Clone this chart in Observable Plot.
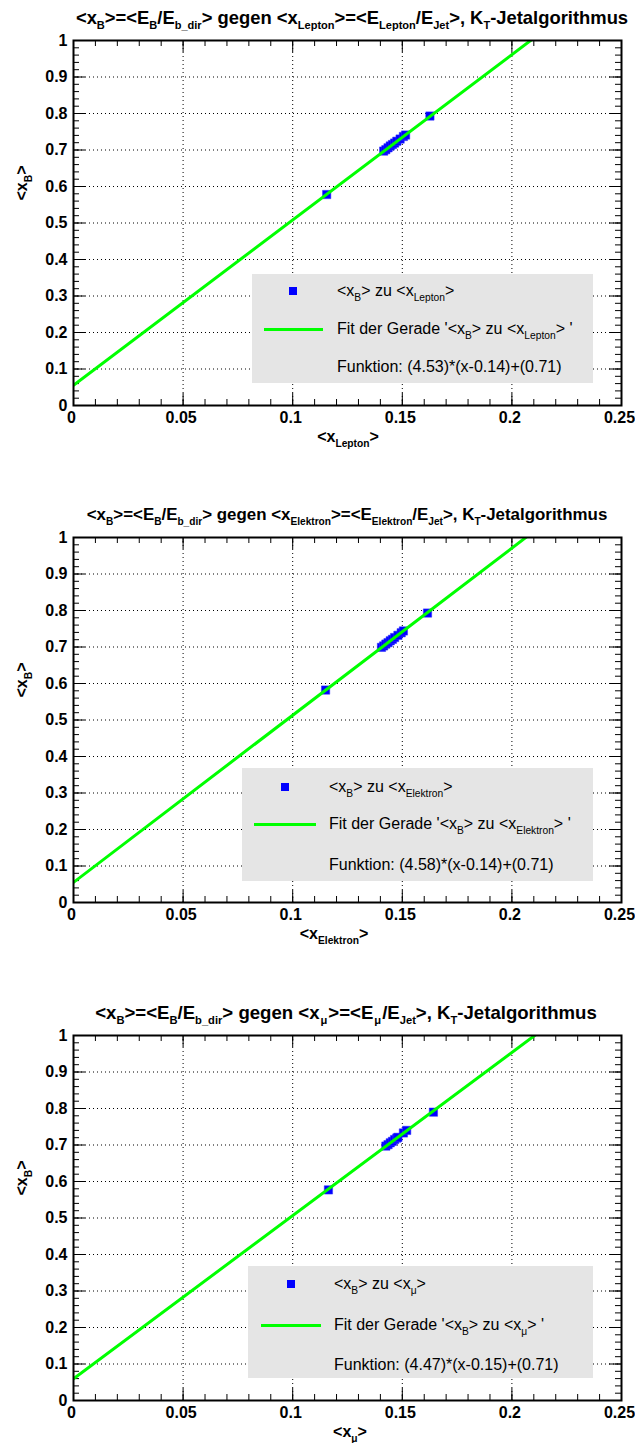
<!DOCTYPE html>
<html><head><meta charset="utf-8">
<script src="https://cdn.jsdelivr.net/npm/d3@7"></script>
<script src="https://cdn.jsdelivr.net/npm/@observablehq/plot@0.6"></script>
<style>
body{margin:0;background:#fff;font-family:"Liberation Sans",Arial,Helvetica,sans-serif;color:#000;}
#root{position:relative;width:635px;height:1443px;overflow:hidden;background:#fff;}
.abs{position:absolute;white-space:nowrap;line-height:1;}
.sub{font-size:0.64em;position:relative;top:0.45em;}
.title{font-weight:bold;font-size:18px;transform:translate(-50%,-50%);}
.title .sub{font-size:0.6em;}
.title .musub{padding:0 1px;}
.axt{font-weight:bold;font-size:16px;transform:translate(-50%,-50%);}
.ayt{font-weight:bold;font-size:16px;transform:translate(-50%,-50%) rotate(-90deg);}
.leg{background:#e5e5e5;}
.lt{font-size:16px;transform:translateY(-50%);}
svg{position:absolute;left:0;}
</style>
</head><body><div id="root"></div>
<script>
// ---- axis ticks ----
const xTicks = [0, 0.05, 0.1, 0.15, 0.2, 0.25];
const xTickLabels = ["0", "0.05", "0.1", "0.15", "0.2", "0.25"];
const yTicks = [0, 0.1, 0.2, 0.3, 0.4, 0.5, 0.6, 0.7, 0.8, 0.9, 1];
const yTickLabels = ["0", "0.1", "0.2", "0.3", "0.4", "0.5", "0.6", "0.7", "0.8", "0.9", "1"];

// ---- panel titles / labels (ROOT-style _{} subscripts) ----
const titles = [
  "<x_{B}>=<E_{B}/E_{b_dir}> gegen <x_{Lepton}>=<E_{Lepton}/E_{Jet}>, K_{T}-Jetalgorithmus",
  "<x_{B}>=<E_{B}/E_{b_dir}> gegen <x_{Elektron}>=<E_{Elektron}/E_{Jet}>, K_{T}-Jetalgorithmus",
  "<x_{B}>=<E_{B}/E_{b_dir}> gegen <x_{\u03bc}>=<E_{\u03bc}/E_{Jet}>, K_{T}-Jetalgorithmus"
];
const xTitles = ["<x_{Lepton}>", "<x_{Elektron}>", "<x_{\u03bc}>"];
const yTitle = "<x_{B}>";
const legendPoints = ["<x_{B}> zu <x_{Lepton}>", "<x_{B}> zu <x_{Elektron}>", "<x_{B}> zu <x_{\u03bc}>"];
const legendFits = ["Fit der Gerade '<x_{B}> zu <x_{Lepton}> '", "Fit der Gerade '<x_{B}> zu <x_{Elektron}> '", "Fit der Gerade '<x_{B}> zu <x_{\u03bc}> '"];
const legendFuncs = ["Funktion: (4.53)*(x-0.14)+(0.71)", "Funktion: (4.58)*(x-0.14)+(0.71)", "Funktion: (4.47)*(x-0.15)+(0.71)"];

// ---- data: Lepton ----
const leptonX = [0.1155, 0.1415, 0.1425, 0.1435, 0.1445, 0.1455, 0.1465, 0.1475, 0.1490, 0.1505, 0.1515, 0.1626];
const leptonY = [0.578, 0.697, 0.701, 0.706, 0.711, 0.715, 0.719, 0.724, 0.730, 0.737, 0.741, 0.793];
// ---- data: Elektron ----
const elekX = [0.1150, 0.1405, 0.1415, 0.1425, 0.1435, 0.1445, 0.1455, 0.1465, 0.1480, 0.1495, 0.1505, 0.1615];
const elekY = [0.582, 0.699, 0.703, 0.708, 0.712, 0.717, 0.721, 0.726, 0.732, 0.739, 0.744, 0.793];
// ---- data: Myon ----
const muX = [0.1163, 0.1425, 0.1435, 0.1445, 0.1455, 0.1465, 0.1475, 0.1480, 0.1505, 0.1520, 0.1642];
const muY = [0.577, 0.697, 0.701, 0.706, 0.710, 0.715, 0.719, 0.721, 0.733, 0.740, 0.790];

// ---- fit parameters: slope*(x-x0)+y0 ----
const fitSlope = [4.53, 4.58, 4.47];
const fitX0 = [0.1445, 0.1430, 0.1455];
const fitY0 = [0.71, 0.71, 0.71];

const seriesX = [leptonX, elekX, muX];
const seriesY = [leptonY, elekY, muY];

// layout
const offsets = [0, 497, 995];
const legBox = [
  {l: 252, t: 274, r: 593, b: 383, mx: 293, lx1: 264, lx2: 323, tx: 337, rows: [291, 329, 367]},
  {l: 242, t: 271, r: 593, b: 384, mx: 285, lx1: 254, lx2: 316, tx: 329, rows: [290, 327, 368]},
  {l: 248, t: 271, r: 593, b: 383, mx: 291, lx1: 261, lx2: 321, tx: 334, rows: [289, 330, 370]}
];
const titleCx = [352, 347, 346];
const titleSize = [18.4, 16.9, 18.6];
const xTitleCx = [348, 334, 350];

const root = document.getElementById("root");

function rich(str, cls, x, y) {
  const el = document.createElement("div");
  el.className = "abs " + cls;
  el.style.left = x + "px";
  el.style.top = y + "px";
  const re = /_\{([^}]*)\}/g;
  let last = 0, m;
  while ((m = re.exec(str))) {
    if (m.index > last) el.appendChild(document.createTextNode(str.slice(last, m.index)));
    const s = document.createElement("span");
    s.className = "sub" + (m[1] === "\u03bc" ? " musub" : "");
    s.textContent = m[1];
    el.appendChild(s);
    last = re.lastIndex;
  }
  if (last < str.length) el.appendChild(document.createTextNode(str.slice(last)));
  root.appendChild(el);
  return el;
}

const W = 635, H = 460, mt = 40, mb = 55, ml = 73, mr = 14;
const fw = W - ml - mr, fh = H - mt - mb;
const xMinor = d3.range(0, 26).map(i => i / 100);
const yMinor = d3.range(0, 51).map(i => i / 50);
const fmtX = d => xTickLabels[xTicks.findIndex(t => Math.abs(t - d) < 1e-9)];
const fmtY = d => yTickLabels[yTicks.findIndex(t => Math.abs(t - d) < 1e-9)];

for (let p = 0; p < 3; p++) {
  const o = offsets[p];
  const pts = seriesX[p].map((x, i) => ({x, y: seriesY[p][i]}));
  const fit = [0, 0.25].map(x => ({x, y: fitSlope[p] * (x - fitX0[p]) + fitY0[p]}));
  const grid = {stroke: "#000", strokeOpacity: 1, strokeWidth: 1, strokeDasharray: "1,3"};
  const chart = Plot.plot({
    width: W, height: H, marginTop: mt, marginBottom: mb, marginLeft: ml, marginRight: mr,
    x: {domain: [0, 0.25], label: null},
    y: {domain: [0, 1], label: null},
    style: {fontFamily: "Liberation Sans, Arial, sans-serif", background: "transparent", overflow: "visible"},
    marks: [
      Plot.gridX(xTicks.slice(1, -1), grid),
      Plot.gridY(yTicks.slice(1, -1), grid),
      Plot.tickX(xMinor, {x: d => d, insetTop: fh - 6, stroke: "#000"}),
      Plot.tickX(xMinor, {x: d => d, insetBottom: fh - 6, stroke: "#000"}),
      Plot.tickX(xTicks, {x: d => d, insetTop: fh - 12, stroke: "#000"}),
      Plot.tickX(xTicks, {x: d => d, insetBottom: fh - 12, stroke: "#000"}),
      Plot.tickY(yMinor, {y: d => d, insetRight: fw - 6, stroke: "#000"}),
      Plot.tickY(yMinor, {y: d => d, insetLeft: fw - 6, stroke: "#000"}),
      Plot.tickY(yTicks, {y: d => d, insetRight: fw - 12, stroke: "#000"}),
      Plot.tickY(yTicks, {y: d => d, insetLeft: fw - 12, stroke: "#000"}),
      Plot.axisX(xTicks, {anchor: "bottom", tickSize: 0, tickPadding: 6, dx: -2, tickFormat: fmtX, fontSize: 16, fontWeight: "bold", label: null}),
      Plot.axisY(yTicks, {anchor: "left", tickSize: 0, tickPadding: 6, tickFormat: fmtY, fontSize: 16, fontWeight: "bold", label: null}),
      Plot.dot(pts, {x: "x", y: "y", symbol: "square", r: 4.7, fill: "#0000ff", stroke: "#3333ff", strokeWidth: 0.5}),
      Plot.line(fit, {x: "x", y: "y", stroke: "#00ff00", strokeWidth: 3, clip: true}),
      Plot.frame({stroke: "#000", strokeWidth: 2})
    ]
  });
  chart.style.top = o + "px";
  root.appendChild(chart);

  const t = rich(titles[p], "title", titleCx[p], o + 18);
  t.style.fontSize = titleSize[p] + "px";
  rich(xTitles[p], "axt", xTitleCx[p], o + 437);
  rich(yTitle, "ayt", 22, o + 183);

  const L = legBox[p];
  const box = document.createElement("div");
  box.className = "abs leg";
  Object.assign(box.style, {left: L.l + "px", top: (o + L.t) + "px", width: (L.r - L.l) + "px", height: (L.b - L.t) + "px"});
  root.appendChild(box);
  const mk = document.createElement("div");
  mk.className = "abs";
  Object.assign(mk.style, {left: (L.mx - 4) + "px", top: (o + L.rows[0] - 4) + "px", width: "8px", height: "8px", background: "#0000ff"});
  root.appendChild(mk);
  const ln = document.createElement("div");
  ln.className = "abs";
  Object.assign(ln.style, {left: L.lx1 + "px", top: (o + L.rows[1] - 1.5) + "px", width: (L.lx2 - L.lx1) + "px", height: "3px", background: "#00ff00"});
  root.appendChild(ln);
  rich(legendPoints[p], "lt", L.tx, o + L.rows[0]);
  rich(legendFits[p], "lt", L.tx, o + L.rows[1]);
  rich(legendFuncs[p], "lt", L.tx, o + L.rows[2]);
}
</script>
</body></html>
